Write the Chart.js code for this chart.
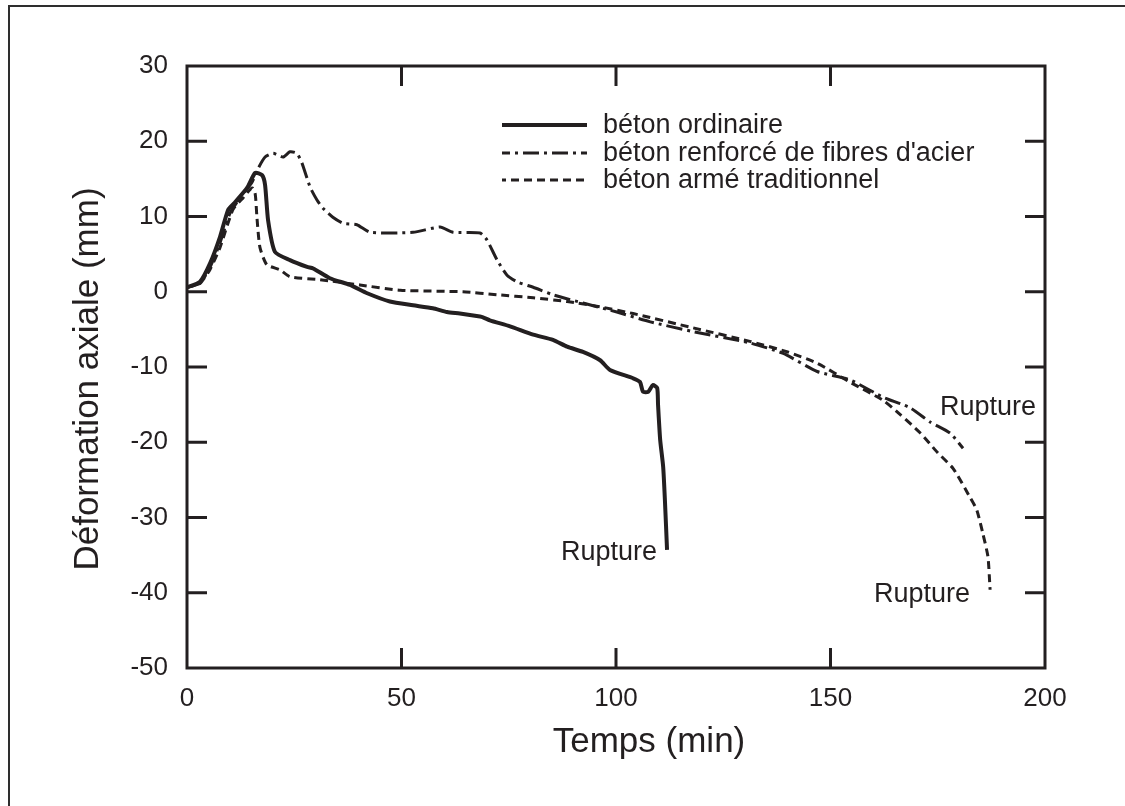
<!DOCTYPE html>
<html><head><meta charset="utf-8">
<script src="https://cdn.jsdelivr.net/npm/chart.js@4/dist/chart.umd.min.js"></script>
<style>
html,body{margin:0;padding:0;background:#fff;}
#wrap{position:relative;width:1125px;height:806px;overflow:hidden;background:#fff;}
#frame{position:absolute;left:8px;top:5px;width:1300px;height:1000px;border:2px solid #2e2e2e;box-sizing:border-box;}
canvas{position:absolute;left:0;top:0;}
</style></head><body>
<div id="wrap"><div id="frame"></div><canvas id="c" width="1125" height="806"></canvas></div>
<script>
// ---- data (time in min, axial deformation in mm) ----
const seriesNames = ["béton ordinaire", "béton renforcé de fibres d'acier", "béton armé traditionnel"];
const tOrdinaire = [0,3,5.4,7.7,9.6,11.2,14,15.9,17.5,18.2,18.9,20.5,24,28,29.4,33.3,38,42,47.3,52.7,57.3,60.6,63.6,68.3,69,70.6,75.3,80.7,85.3,88.6,92.3,96.3,98.6,104,105.6,106.3,107.5,108.6,109.6,109.8,110.3,111,111.4,111.9];
const dOrdinaire = [0.6,1.3,3.8,7.3,10.9,11.9,13.8,15.8,15.5,14.2,9.5,5.3,4.2,3.3,3.1,1.8,0.9,-0.2,-1.3,-1.8,-2.2,-2.7,-2.9,-3.3,-3.4,-3.8,-4.6,-5.7,-6.4,-7.3,-8.0,-9.1,-10.4,-11.5,-12.0,-13.3,-13.3,-12.4,-12.8,-15.0,-19.7,-23.3,-27.7,-34.3];
const tFibres = [0,3,5.4,7.7,10,12.4,15.2,16.6,18.2,20.1,22.4,24,25.6,26.8,28.7,30.3,31.7,34,36.4,39.6,42.7,52.7,59,62,68.3,69.9,72.3,74.6,77,80.7,85.3,92.3,100.2,108,118,131.2,139,146.9,154.5,162.2,168.5,173.2,177.9,180.9];
const dFibres = [0.6,1.1,3.3,6.5,10.4,12.5,14.6,16.4,17.9,18.4,17.9,18.6,18.4,17.1,13.9,12.2,11.1,9.9,9.1,8.9,7.9,7.9,8.6,7.9,7.8,6.9,4.2,2.2,1.3,0.6,-0.4,-1.5,-2.7,-4.0,-5.3,-6.8,-8.2,-10.6,-11.7,-14.0,-15.4,-17.3,-18.8,-20.8];
const tArme = [0,3,5.4,7.7,10.7,13.1,15.2,15.9,16.3,17,18.6,21.7,24,31,40.3,49.7,64.3,72.3,80.7,88.6,96.3,104,118,131.2,140,146.9,154.5,162.2,166.2,171,175,178.6,182.5,184.1,185.5,186.7,187.2];
const dArme = [0.6,1.1,3.0,5.9,10.9,12.5,13.8,13.0,9.9,5.9,3.6,2.9,2.0,1.6,0.9,0.2,0,-0.4,-0.8,-1.3,-2.0,-2.9,-4.8,-6.6,-8.0,-9.5,-12.0,-14.4,-16.3,-18.8,-21.4,-23.5,-27.3,-29,-32.1,-35.2,-39.6];
const ruptureLabel = "Rupture";
const xTitle = "Temps (min)";
const yTitle = "Déformation axiale (mm)";
const xMin = 0, xMax = 200, xStep = 50;
const yMin = -50, yMax = 30, yStep = 10;

// ---- styles ----
const ink = '#231f20';
const FONT = "'Liberation Sans', Arial, Helvetica, sans-serif";
const styles = [
  { width: 4, dash: [] },
  { width: 3, dash: [16, 5, 3, 5] },
  { width: 3, dash: [8, 5] }
];
const pts = (ts, ds) => ts.map((t, i) => ({ x: t, y: ds[i] }));
const sets = [pts(tOrdinaire, dOrdinaire), pts(tFibres, dFibres), pts(tArme, dArme)];

const boxPlugin = {
  id: 'box',
  afterDatasetsDraw(chart) {
    const { ctx, chartArea: a, scales: { x, y } } = chart;
    ctx.save();
    ctx.strokeStyle = ink; ctx.lineWidth = 3; ctx.setLineDash([]);
    ctx.strokeRect(a.left, a.top, a.right - a.left, a.bottom - a.top);
    const L = 20;
    ctx.beginPath();
    x.ticks.forEach(t => {
      const px = x.getPixelForValue(t.value);
      if (px <= a.left + 2 || px >= a.right - 2) return;
      ctx.moveTo(px, a.bottom); ctx.lineTo(px, a.bottom - L);
      ctx.moveTo(px, a.top); ctx.lineTo(px, a.top + L);
    });
    y.ticks.forEach(t => {
      const py = y.getPixelForValue(t.value);
      if (py <= a.top + 2 || py >= a.bottom - 2) return;
      ctx.moveTo(a.left, py); ctx.lineTo(a.left + L, py);
      ctx.moveTo(a.right, py); ctx.lineTo(a.right - L, py);
    });
    ctx.stroke();
    ctx.restore();
  },
  afterDraw(chart) {
    const { ctx, chartArea: a, scales: { x, y } } = chart;
    ctx.save();
    ctx.fillStyle = ink; ctx.strokeStyle = ink;
    // axis titles
    ctx.font = '35px ' + FONT;
    ctx.textAlign = 'center'; ctx.textBaseline = 'middle';
    ctx.fillText(xTitle, (a.left + a.right) / 2 + 33, a.bottom + 74);
    ctx.save();
    ctx.translate(88, (a.top + a.bottom) / 2 + 12);
    ctx.rotate(-Math.PI / 2);
    ctx.fillText(yTitle, 0, 0);
    ctx.restore();
    // legend
    ctx.font = '27px ' + FONT;
    const lx0 = 502, lx1 = 587, tx = 603, ly = [125, 153, 180];
    seriesNames.forEach((n, i) => {
      ctx.lineWidth = styles[i].width;
      ctx.setLineDash(styles[i].dash);
      ctx.lineDashOffset = i === 2 ? 4 : (i === 1 ? 8 : 0);
      ctx.beginPath(); ctx.moveTo(lx0, ly[i]); ctx.lineTo(lx1, ly[i]); ctx.stroke();
      ctx.setLineDash([]);
      ctx.textAlign = 'left'; ctx.textBaseline = 'middle';
      ctx.fillText(n, tx, ly[i] + 1);
    });
    // Rupture labels anchored to the last point of each series
    ctx.textBaseline = 'alphabetic';
    const endPt = s => { const p = s[s.length - 1]; return [x.getPixelForValue(p.x), y.getPixelForValue(p.y)]; };
    let [px, py] = endPt(sets[0]);
    ctx.textAlign = 'right'; ctx.fillText(ruptureLabel, px - 10, py + 10);
    [px, py] = endPt(sets[2]);
    ctx.textAlign = 'right'; ctx.fillText(ruptureLabel, px - 20, py + 12);
    [px, py] = endPt(sets[1]);
    ctx.textAlign = 'left'; ctx.fillText(ruptureLabel, px - 23, py - 33);
    ctx.restore();
  }
};

Chart.defaults.font.family = FONT;
Chart.defaults.color = ink;

new Chart(document.getElementById('c'), {
  type: 'line',
  data: {
    datasets: sets.map((d, i) => ({
      label: seriesNames[i],
      data: d,
      borderColor: ink,
      borderWidth: styles[i].width,
      borderDash: styles[i].dash,
      pointRadius: 0,
      tension: 0.2,
      fill: false,
      borderCapStyle: 'butt',
      borderJoinStyle: 'round'
    }))
  },
  options: {
    responsive: false,
    animation: false,
    layout: { padding: { left: 67, top: 66, right: 80, bottom: 55 } },
    plugins: { legend: { display: false }, tooltip: { enabled: false } },
    scales: {
      x: {
        type: 'linear', min: xMin, max: xMax,
        ticks: { stepSize: xStep, font: { size: 26 }, color: ink, padding: 15, maxRotation: 0 },
        grid: { display: false, drawTicks: false },
        border: { display: false },
        title: { display: false, text: xTitle },
        afterFit(s) { s.height = 83; }
      },
      y: {
        type: 'linear', min: yMin, max: yMax,
        ticks: { stepSize: yStep, font: { size: 26 }, color: ink, padding: 19 },
        grid: { display: false, drawTicks: false },
        border: { display: false },
        title: { display: false, text: yTitle },
        afterFit(s) { s.width = 120; }
      }
    }
  },
  plugins: [boxPlugin]
});
</script>
</body></html>
